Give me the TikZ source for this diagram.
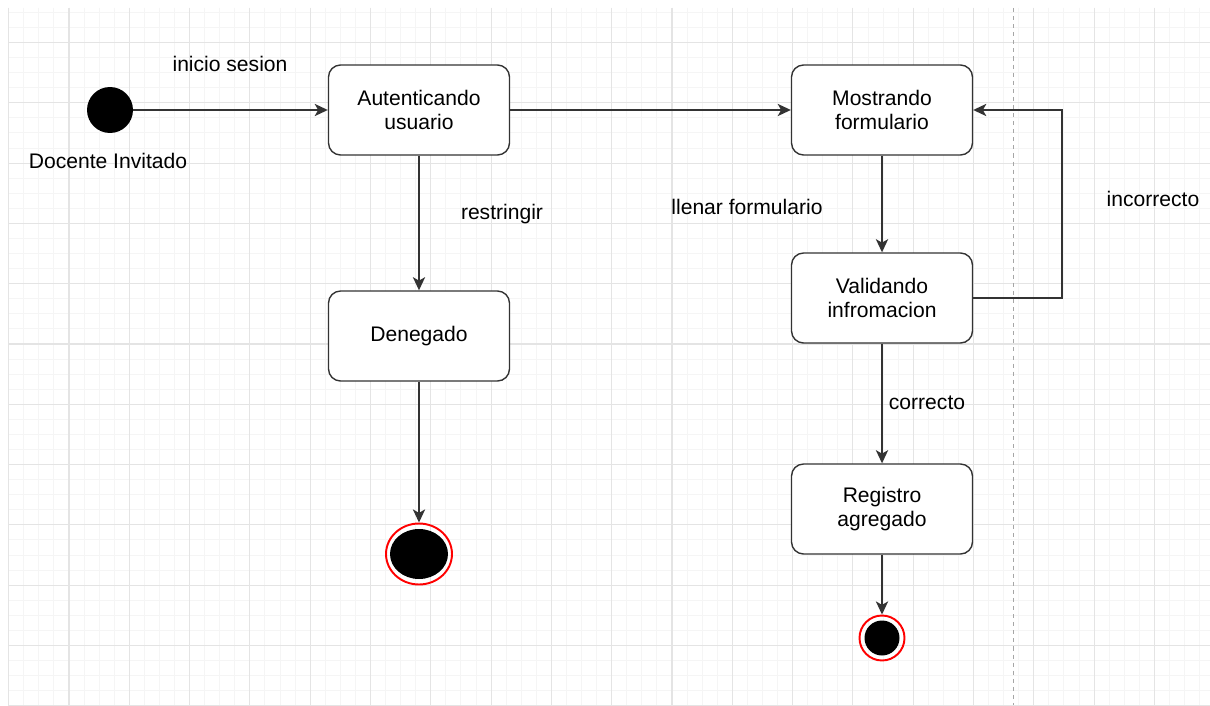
\documentclass[tikz,border=0pt]{standalone}
\usepackage{fontspec}
\setmainfont{Liberation Sans}
\usetikzlibrary{arrows.meta,shapes.geometric}

\definecolor{gridminor}{HTML}{F5F5F5}
\definecolor{gridmajor}{HTML}{E4E4E4}
\definecolor{edge}{HTML}{333333}

\tikzset{
  statebox/.style={rectangle, rounded corners=0.24cm, draw=edge, line width=0.8pt,
    fill=white, minimum width=3.62cm, minimum height=1.8cm, align=center,
    font=\fontsize{12}{14}\selectfont},
  flow/.style={draw=edge, line width=0.8pt, -{Stealth[length=7.5pt,width=7pt,inset=2pt]}},
  lbl/.style={font=\fontsize{12}{14}\selectfont, inner sep=0pt},
  startdot/.style={circle, fill=black, minimum size=0.92cm, inner sep=0pt},
}

\begin{document}
\begin{tikzpicture}[x=0.02cm, y=-0.02cm]
\useasboundingbox (0,0) rectangle (1210,706);
\fill[white] (0,0) rectangle (1210,706);

% grid
\begin{scope}
  \clip (8,8) rectangle (1210,705);
  \foreach \i in {0,...,80}
    \draw[gridminor, line width=0.55pt] ({8.7+15.075*\i},8) -- ({8.7+15.075*\i},705);
  \foreach \j in {-1,...,46}
    \draw[gridminor, line width=0.55pt] (8,{12.35+15.075*\j}) -- (1210,{12.35+15.075*\j});
  \foreach \i in {0,...,20}
    \draw[gridmajor, line width=0.6pt] ({8.7+60.3*\i},8) -- ({8.7+60.3*\i},705);
  \foreach \j in {0,...,11}
    \draw[gridmajor, line width=0.6pt] (8,{42.5+60.3*\j}) -- (1210,{42.5+60.3*\j});
\end{scope}
\draw[gray!70, line width=0.5pt, dash pattern=on 2.3pt off 2.3pt] (1013,8) -- (1013,705);

% states
\node[startdot] (ini) at (110,110) {};
\node[statebox] (aut) at (419,110) {Autenticando\\usuario};
\node[statebox] (den) at (419,336) {Denegado};
\node[statebox] (mos) at (882,110) {Mostrando\\formulario};
\node[statebox] (val) at (882,298) {Validando\\infromacion};
\node[statebox] (reg) at (882,509) {Registro\\agregado};

\node[ellipse, draw=red, line width=1.1pt, minimum width=1.32cm, minimum height=1.22cm, inner sep=0pt] (fin1) at (419,554) {};
\fill[black] (fin1.center) ellipse [x radius=0.58cm, y radius=0.5cm];
\node[circle, draw=red, line width=1.1pt, minimum size=0.9cm, inner sep=0pt] (fin2) at (882,638) {};
\fill[black] (fin2.center) circle [radius=0.35cm];

\coordinate (turn) at (1062,298);

% transitions
\draw[flow] (ini) -- (aut);
\draw[flow] (aut) -- (mos);
\draw[flow] (aut) -- (den);
\draw[flow] (den) -- (fin1.north);
\draw[flow] (mos) -- (val);
\draw[flow] (val.east) -- (turn) |- (mos.east);
\draw[flow] (val) -- (reg);
\draw[flow] (reg) -- (fin2.north);

% labels
\node[lbl] (l1) at (230,64) {inicio sesion};
\node[lbl] (l2) at (108,161) {Docente Invitado};
\node[lbl] (l3) at (502,214) {restringir};
\node[lbl] (l4) at (747,207) {llenar formulario};
\node[lbl] (l5) at (1153,199) {incorrecto};
\node[lbl] (l6) at (927,403) {correcto};
\end{tikzpicture}
\end{document}
